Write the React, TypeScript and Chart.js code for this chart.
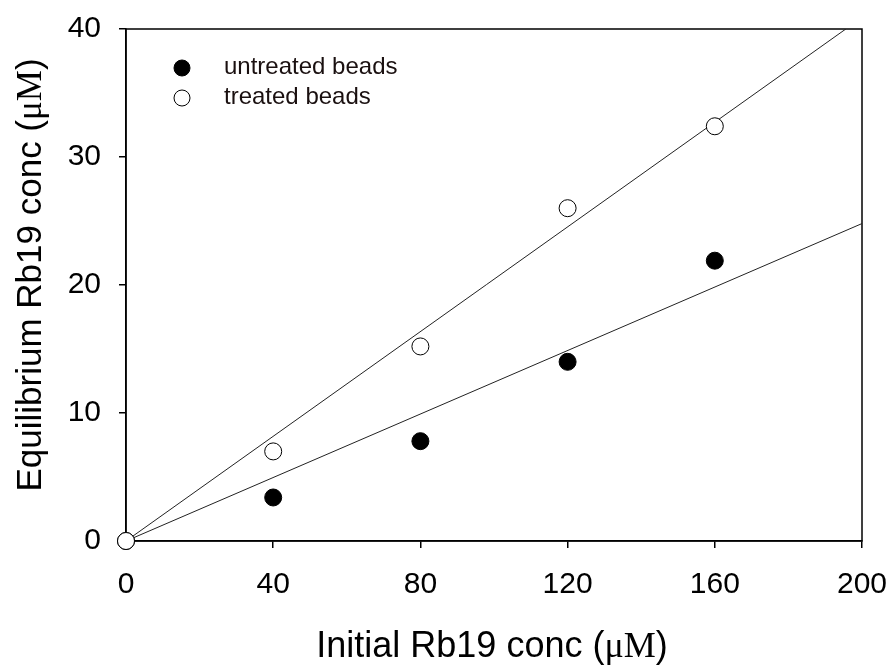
import React, { useEffect, useRef } from "react";
import { Chart, registerables } from "chart.js";

Chart.register(...registerables);

// ---- data ----
const xConc = [0, 40, 80, 120, 160];
const untreated = [0, 3.4, 7.8, 14.0, 21.9];
const treated = [0, 7.0, 15.2, 26.0, 32.4];
const fitX = [0, 200];
const untreatedFit = [0, 24.8];
const treatedFit = [0, 40.9];
const xTicks = [0, 40, 80, 120, 160, 200];
const yTicks = [0, 10, 20, 30, 40];
const legendLabels = ["untreated beads", "treated beads"];
const xTitle = ["Initial Rb19 conc (", "\u03bcM", ")"];
const yTitle = ["Equilibrium Rb19 conc (", "\u03bcM", ")"];

const SANS = 'Arial, "Liberation Sans", sans-serif';
const SERIF = '"Times New Roman", "Liberation Serif", serif';

function drawMixed(ctx: CanvasRenderingContext2D, parts: string[], size: number) {
  const fonts = parts.map((_, i) => (i === 1 ? `${size}px ${SERIF}` : `${size}px ${SANS}`));
  const widths = parts.map((p, i) => {
    ctx.font = fonts[i];
    return ctx.measureText(p).width;
  });
  const total = widths.reduce((a, b) => a + b, 0);
  let x = -total / 2;
  parts.forEach((p, i) => {
    ctx.font = fonts[i];
    ctx.fillText(p, x, 0);
    x += widths[i];
  });
}

const zeroPad = (s: any) => {
  s.paddingLeft = 0;
  s.paddingRight = 0;
  s.paddingTop = 0;
  s.paddingBottom = 0;
};

const decorPlugin = {
  id: "decor",
  beforeDatasetsDraw(chart: any) {
    const { ctx, chartArea } = chart;
    ctx.save();
    ctx.strokeStyle = "#000";
    ctx.lineWidth = 1.5;
    ctx.strokeRect(chartArea.left, chartArea.top, chartArea.right - chartArea.left, chartArea.bottom - chartArea.top);
    ctx.restore();
  },
  afterDraw(chart: any) {
    const { ctx, chartArea } = chart;
    ctx.save();
    // legend
    const fills = ["#000", "#fff"];
    legendLabels.forEach((lab, i) => {
      const cy = 68 + i * 30;
      ctx.beginPath();
      ctx.arc(182, cy, 8, 0, Math.PI * 2);
      ctx.fillStyle = fills[i];
      ctx.fill();
      ctx.lineWidth = 1;
      ctx.strokeStyle = "#000";
      ctx.stroke();
      ctx.fillStyle = "#1a1010";
      ctx.font = `24px ${SANS}`;
      ctx.textAlign = "left";
      ctx.textBaseline = "alphabetic";
      ctx.fillText(lab, 224, cy + 5.5);
    });
    // x title
    ctx.fillStyle = "#000";
    ctx.textAlign = "left";
    ctx.textBaseline = "alphabetic";
    ctx.save();
    ctx.translate((chartArea.left + chartArea.right) / 2 - 2, 656.5);
    drawMixed(ctx, xTitle, 36);
    ctx.restore();
    // y title
    ctx.save();
    ctx.translate(41, 275);
    ctx.rotate(-Math.PI / 2);
    drawMixed(ctx, yTitle, 35);
    ctx.restore();
    ctx.restore();
  },
};

export default function App() {
  const ref = useRef<HTMLCanvasElement | null>(null);
  useEffect(() => {
    if (!ref.current) return;
    const pts = (xs: number[], ys: number[]) => xs.map((x, i) => ({ x, y: ys[i] }));
    const chart = new Chart(ref.current, {
      type: "scatter",
      data: {
        datasets: [
          {
            label: legendLabels[1],
            data: pts(xConc, treated),
            pointRadius: 8.5,
            pointBackgroundColor: "#fff",
            pointBorderColor: "#000",
            pointBorderWidth: 1,
            showLine: false,
            clip: false as any,
          },
          {
            label: legendLabels[0],
            data: pts(xConc, untreated),
            pointRadius: 8.5,
            pointBackgroundColor: "#000",
            pointBorderColor: "#000",
            pointBorderWidth: 1,
            showLine: false,
            clip: false as any,
          },
          {
            label: "treated fit",
            data: pts(fitX, treatedFit),
            showLine: true,
            pointRadius: 0,
            borderColor: "#222",
            borderWidth: 1,
          },
          {
            label: "untreated fit",
            data: pts(fitX, untreatedFit),
            showLine: true,
            pointRadius: 0,
            borderColor: "#222",
            borderWidth: 1,
          },
        ],
      },
      options: {
        animation: false,
        responsive: false,
        devicePixelRatio: 1,
        layout: { padding: { left: 0, right: 29, top: 29, bottom: 0 } },
        plugins: { legend: { display: false }, tooltip: { enabled: false } },
        scales: {
          x: {
            type: "linear",
            min: 0,
            max: 200,
            afterBuildTicks: (s: any) => {
              s.ticks = xTicks.map((v) => ({ value: v }));
            },
            afterFit: (s: any) => {
              s.height = 124;
              zeroPad(s);
            },
            grid: { drawOnChartArea: false, drawTicks: true, tickLength: 7, color: "#000", lineWidth: 1.5 },
            border: { display: true, color: "#000", width: 1.5 },
            ticks: { font: { family: SANS, size: 30 }, color: "#000", padding: 19, maxRotation: 0, autoSkip: false },
          },
          y: {
            type: "linear",
            min: 0,
            max: 40,
            afterBuildTicks: (s: any) => {
              s.ticks = yTicks.map((v) => ({ value: v }));
            },
            afterFit: (s: any) => {
              s.width = 126;
              zeroPad(s);
            },
            grid: { drawOnChartArea: false, drawTicks: true, tickLength: 7, color: "#000", lineWidth: 1.5 },
            border: { display: true, color: "#000", width: 1.5 },
            ticks: { font: { family: SANS, size: 30 }, color: "#000", padding: 18, autoSkip: false },
          },
        },
      },
      plugins: [decorPlugin],
    } as any);
    return () => chart.destroy();
  }, []);
  return (
    <div style={{ position: "absolute", left: 0, top: 0, width: 891, height: 665, background: "#fff" }}>
      <canvas ref={ref} width={891} height={665} style={{ display: "block", width: 891, height: 665 }} />
    </div>
  );
}
